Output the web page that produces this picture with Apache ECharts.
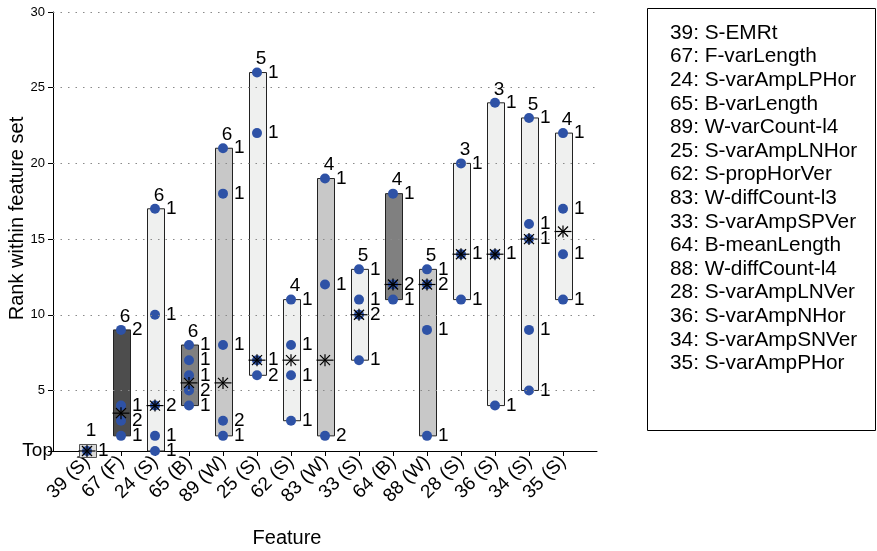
<!DOCTYPE html>
<html><head><meta charset="utf-8">
<script src="https://cdn.jsdelivr.net/npm/echarts@6/dist/echarts.min.js"></script>
<style>html,body{margin:0;padding:0;background:#fff}#c{width:877px;height:551px}</style>
</head><body><div id="c"></div>
<script>
// ---- data ----
const categories = ['39 (S)','67 (F)','24 (S)','65 (B)','89 (W)','25 (S)','62 (S)','83 (W)','33 (S)','64 (B)','88 (W)','28 (S)','36 (S)','34 (S)','35 (S)'];
const featureNames = ['39: S-EMRt','67: F-varLength','24: S-varAmpLPHor','65: B-varLength','89: W-varCount-l4','25: S-varAmpLNHor','62: S-propHorVer','83: W-diffCount-l3','33: S-varAmpSPVer','64: B-meanLength','88: W-diffCount-l4','28: S-varAmpLNVer','36: S-varAmpNHor','34: S-varAmpSNVer','35: S-varAmpPHor'];
const rankMin = [1,2,1,4,2,6,3,2,7,11,2,11,4,5,11];
const rankMax = [1,9,17,8,21,26,11,19,13,18,13,20,24,23,22];
const medianRank = [1,3.5,4,5.5,5.5,7,7,7,10,12,12,14,14,15,15.5];
const totalCount = [1,6,6,6,6,5,4,4,5,4,5,3,3,5,4];
const spreadGroup = [0,4,1,3,2,1,1,2,1,3,2,1,1,1,1];
const dotRanks = [[1],[9,4,3,2],[17,10,4,2,1],[8,7,6,5,4],[21,18,8,3,2],[26,22,7,6],[11,8,6,3],[19,12,2],[13,11,10,7],[18,12,11],[13,12,9,2],[20,14,11],[24,14,4],[23,16,15,9,5],[22,17,14,11]];
const dotCounts = [[1],[2,1,2,1],[1,1,2,1,1],[1,1,1,2,1],[1,1,1,2,1],[1,1,1,2],[1,1,1,1],[1,1,2],[1,1,2,1],[1,2,1],[1,2,1,1],[1,1,1],[1,1,1],[1,1,1,1,1],[1,1,1,1]];
const yTickValues = [1,5,10,15,20,25,30];
const gridValues = [5,10,15,20,25,30];

// ---- styles ----
const FONT = '"Liberation Sans", Arial, Helvetica, sans-serif';
const groupStyle = {
  0: {fill:'#d9d9d9', stroke:'#555555'},
  1: {fill:'#eff0ef', stroke:'#222222'},
  2: {fill:'#c8c8c8', stroke:'#222222'},
  3: {fill:'#808080', stroke:'#222222'},
  4: {fill:'#4d4d4d', stroke:'#222222'}
};
const DOT = '#2e52a6';

const xData = ['\u200b'].concat(categories, ['\u200b\u200b']);
const boxData = categories.map((c,i)=>[i+1, rankMin[i], rankMax[i], spreadGroup[i], totalCount[i]]);
const medData = categories.map((c,i)=>[i+1, medianRank[i]]);
const dotData = [];
categories.forEach((c,i)=>{
  dotRanks[i].forEach((r,j)=>dotData.push([i+1, r, dotCounts[i][j]]));
});

const chart = echarts.init(document.getElementById('c'), null, {renderer:'canvas'});
const inner = (idx)=> idx>0 && idx<xData.length-1;

chart.setOption({
  animation:false,
  textStyle:{fontFamily:FONT},
  grid:{left:53, right:280, top:12, bottom:100, containLabel:false, outerBoundsMode:'none'},
  xAxis:{
    type:'category', data:xData, boundaryGap:false,
    axisLine:{show:true, lineStyle:{color:'#000', width:1}},
    axisTick:{show:true, length:5, interval:(i)=>inner(i), lineStyle:{color:'#000'}},
    axisLabel:{rotate:45, interval:(i)=>inner(i), fontSize:19, color:'#000', margin:8, fontFamily:FONT},
    splitLine:{show:false},
    name:'Feature', nameLocation:'middle', nameGap:77, nameMoveOverlap:false,
    nameTextStyle:{fontSize:20, color:'#000', fontFamily:FONT, padding:[0,76,0,0]}
  },
  yAxis:{
    type:'value', min:1, max:30,
    axisLine:{show:true, lineStyle:{color:'#000', width:1}},
    axisTick:{show:true, length:5, customValues:yTickValues, lineStyle:{color:'#000'}},
    axisLabel:{customValues:yTickValues, color:'#000', margin:0, fontFamily:FONT,
      formatter:(v)=> v===1 ? '{top|Top}' : '{num|'+v+'}',
      rich:{top:{fontSize:19, color:'#000', fontFamily:FONT},
            num:{fontSize:13, color:'#000', fontFamily:FONT, padding:[0,8,0,0]}}},
    splitLine:{show:false},
    name:'Rank within feature set', nameLocation:'middle', nameGap:26, nameMoveOverlap:false,
    nameTextStyle:{fontSize:20, color:'#000', fontFamily:FONT, padding:[0,0,0,26]}
  },
  graphic:[{
    type:'group', silent:true,
    children:[{
      type:'rect', shape:{x:647.5, y:8.5, width:228, height:422},
      style:{fill:'#fff', stroke:'#000', lineWidth:1}
    }].concat(featureNames.map((t,i)=>({
      type:'text', x:670, y:33+i*23.6,
      style:{text:t, fontSize:20.8, fontFamily:FONT, fill:'#000', verticalAlign:'middle', align:'left'}
    })))
  }],
  series:[
    {
      type:'scatter', data:[], z:1, silent:true,
      markLine:{silent:true, symbol:['none','none'], label:{show:false},
        lineStyle:{type:[1.5,6], color:'#8a8a8a', width:1.2},
        data:gridValues.map(v=>({yAxis:v}))}
    },
    {
      type:'custom', z:2, data:boxData, silent:true,
      renderItem:(params, api)=>{
        const x = api.value(0), lo = api.value(1), hi = api.value(2), g = api.value(3);
        const pLo = api.coord([x, lo]), pHi = api.coord([x, hi]);
        const w = api.size([1,0])[0]*0.5;
        let top = pHi[1], bot = pLo[1];
        if (lo === hi) { const pad = api.size([0,0.43])[1]; top -= pad; bot += pad; }
        const st = groupStyle[g];
        return {type:'rect', shape:{x:Math.round(pLo[0]-w/2)+0.5, y:top, width:w, height:bot-top},
          style:{fill:st.fill, stroke:st.stroke, lineWidth:1}};
      }
    },
    {
      type:'scatter', z:3, data:dotData, symbol:'circle', symbolSize:10, silent:true,
      itemStyle:{color:DOT, opacity:1},
      label:{show:true, position:'right', distance:6, formatter:(p)=>String(p.value[2]),
        fontSize:19, color:'#000', fontFamily:FONT}
    },
    {
      type:'custom', z:4, data:medData, silent:true,
      renderItem:(params, api)=>{
        const p = api.coord([api.value(0), api.value(1)]);
        const w = api.size([1,0])[0]*0.5;
        const a = 6, d = 5;
        const ls = {stroke:'#000', lineWidth:1.2};
        return {type:'group', children:[
          {type:'line', shape:{x1:p[0]-w/2, y1:p[1], x2:p[0]+w/2, y2:p[1]}, style:ls},
          {type:'line', shape:{x1:p[0], y1:p[1]-a, x2:p[0], y2:p[1]+a}, style:ls},
          {type:'line', shape:{x1:p[0]-d, y1:p[1]-d, x2:p[0]+d, y2:p[1]+d}, style:ls},
          {type:'line', shape:{x1:p[0]-d, y1:p[1]+d, x2:p[0]+d, y2:p[1]-d}, style:ls}
        ]};
      }
    },
    {
      type:'custom', z:5, data:boxData, silent:true,
      renderItem:(params, api)=>{
        const x = api.value(0), lo = api.value(1), hi = api.value(2), n = api.value(4);
        const pHi = api.coord([x, hi]);
        let top = pHi[1];
        if (lo === hi) top -= api.size([0,0.43])[1];
        return {type:'text', x:pHi[0]+4, y:top-4,
          style:{text:String(n), fontSize:19, fontFamily:FONT, fill:'#000', align:'center', verticalAlign:'bottom'}};
      }
    }
  ]
});
</script></body></html>
